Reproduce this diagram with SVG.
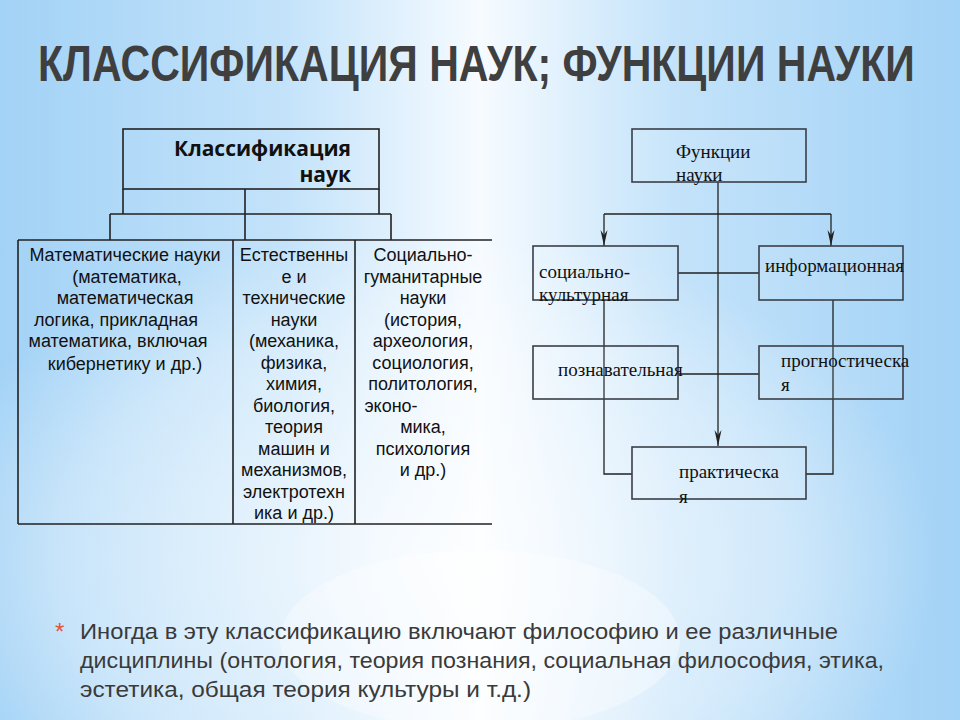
<svg xmlns="http://www.w3.org/2000/svg" width="960" height="720" viewBox="0 0 960 720">
<defs>
  <linearGradient id="bgH" x1="0" y1="0" x2="1" y2="0">
    <stop offset="0" stop-color="#a2d2f6"/>
    <stop offset="0.3" stop-color="#c4e3fa"/>
    <stop offset="0.5" stop-color="#f6fbff"/>
    <stop offset="0.7" stop-color="#c4e3fa"/>
    <stop offset="1" stop-color="#a2d2f6"/>
  </linearGradient>
  <radialGradient id="swoosh" cx="0.5" cy="0.5" r="0.5">
    <stop offset="0" stop-color="#ffffff" stop-opacity="0.75"/>
    <stop offset="0.7" stop-color="#ffffff" stop-opacity="0.35"/>
    <stop offset="1" stop-color="#ffffff" stop-opacity="0"/>
  </radialGradient>
  <marker id="arrow" viewBox="0 0 16 8" refX="16" refY="4" markerWidth="16" markerHeight="8" markerUnits="userSpaceOnUse" orient="auto">
    <path d="M0,0.5 L16,4 L0,7.5 L5,4 Z" fill="#222"/>
  </marker>
</defs>
<style>
  .title { font-family: "Liberation Sans", "DejaVu Sans", sans-serif; font-weight: bold; font-size: 50px; fill: #3f3f3f; }
  .cell { font-family: "Liberation Sans", "Open Sans", sans-serif; font-size: 18px; fill: #111; text-anchor: middle; }
  .cellb { font-family: "Open Sans", "Liberation Sans", sans-serif; font-size: 21px; font-weight: bold; fill: #111; }
  .tl { stroke: #222; stroke-width: 1.6; fill: none; }
  .box { fill: #ffffff; fill-opacity: 0.08; stroke: #3a3f48; stroke-width: 1.6; }
  .fn { font-family: "Liberation Serif", "Times New Roman", serif; font-size: 19px; fill: #111; }
  .con { stroke: #222; stroke-width: 1.3; fill: none; }
  .foot { font-family: "Liberation Sans", "DejaVu Sans", sans-serif; font-size: 22px; fill: #3a3a3a; }
</style>

<!-- background -->
<rect x="0" y="0" width="960" height="720" fill="url(#bgH)"/>
<ellipse cx="420" cy="560" rx="520" ry="330" fill="url(#swoosh)"/>
<ellipse cx="480" cy="640" rx="200" ry="90" fill="#ffffff" fill-opacity="0.35"/>

<!-- title -->
<text class="title" transform="translate(38,81) scale(0.78,1)" x="0" y="0" textLength="1124" lengthAdjust="spacingAndGlyphs">КЛАССИФИКАЦИЯ НАУК; ФУНКЦИИ НАУКИ</text>

<!-- classification table -->
<g id="classification">
  <g id="cls-root">
    <rect class="tl" x="123" y="129" width="256" height="60"/>
    <text class="cellb" x="351" y="156" text-anchor="end">Классификация</text>
    <text class="cellb" x="351" y="182" text-anchor="end">наук</text>
  </g>
  <g id="cls-links">
    <path class="tl" d="M123,189 V214 M379,189 V214 M245,189 V240 M110,214 H391 M110,214 V240 M391,214 V240"/>
  </g>
  <g id="cls-grid">
    <path class="tl" d="M18,240 H492 M18,240 V524 M233,240 V524 M355,240 V524 M18,524 H492"/>
  </g>
  <g id="col-math">
    <text class="cell" x="125" y="261">Математические науки</text>
    <text class="cell" x="127" y="282.5">(математика,</text>
    <text class="cell" x="125" y="304">математическая</text>
    <text class="cell" x="116" y="325.5">логика, прикладная</text>
    <text class="cell" x="118" y="347">математика, включая</text>
    <text class="cell" x="125" y="370">кибернетику и др.)</text>
  </g>
  <g id="col-nat">
    <text class="cell" x="294" y="261">Естественны</text>
    <text class="cell" x="294" y="282.5">е и</text>
    <text class="cell" x="294" y="304">технические</text>
    <text class="cell" x="294" y="325.5">науки</text>
    <text class="cell" x="294" y="347">(механика,</text>
    <text class="cell" x="294" y="368.5">физика,</text>
    <text class="cell" x="294" y="390">химия,</text>
    <text class="cell" x="294" y="411.5">биология,</text>
    <text class="cell" x="294" y="433">теория</text>
    <text class="cell" x="294" y="454.5">машин и</text>
    <text class="cell" x="294" y="476">механизмов,</text>
    <text class="cell" x="294" y="497.5">электротехн</text>
    <text class="cell" x="294" y="519">ика и др.)</text>
  </g>
  <g id="col-soc">
    <text class="cell" x="423" y="261">Социально-</text>
    <text class="cell" x="423" y="282.5">гуманитарные</text>
    <text class="cell" x="423" y="304">науки</text>
    <text class="cell" x="423" y="325.5">(история,</text>
    <text class="cell" x="423" y="347">археология,</text>
    <text class="cell" x="423" y="368.5">социология,</text>
    <text class="cell" x="423" y="390">политология,</text>
    <text class="cell" x="391" y="411.5">эконо-</text>
    <text class="cell" x="423" y="433">мика,</text>
    <text class="cell" x="423" y="454.5">психология</text>
    <text class="cell" x="423" y="476">и др.)</text>
  </g>
</g>

<!-- functions diagram -->
<g id="connectors">
  <path class="con" d="M718,182 V446" marker-end="url(#arrow)"/>
  <path class="con" d="M604,214 H831"/>
  <path class="con" d="M604,214 V246" marker-end="url(#arrow)"/>
  <path class="con" d="M831,214 V246" marker-end="url(#arrow)"/>
  <path class="con" d="M678,273 H759"/>
  <path class="con" d="M678,374 H759"/>
  <path class="con" d="M604,300 V474 H632"/>
  <path class="con" d="M833,300 V474 H806"/>
</g>
<g id="fn-root">
  <rect class="box" x="632" y="129" width="174" height="53"/>
  <text class="fn" x="676" y="158">Функции</text>
  <text class="fn" x="676" y="181">науки</text>
</g>
<g id="fn-social">
  <rect class="box" x="533" y="246" width="145" height="54"/>
  <text class="fn" x="539" y="278">социально-</text>
  <text class="fn" x="539" y="301">культурная</text>
</g>
<g id="fn-info">
  <rect class="box" x="759" y="246" width="144" height="54"/>
  <text class="fn" x="765" y="272">информационная</text>
</g>
<g id="fn-cogn">
  <rect class="box" x="533" y="346" width="145" height="53"/>
  <text class="fn" x="558" y="376">познавательная</text>
</g>
<g id="fn-progn">
  <rect class="box" x="759" y="346" width="144" height="53"/>
  <text class="fn" x="781" y="367">прогностическа</text>
  <text class="fn" x="781" y="391">я</text>
</g>
<g id="fn-pract">
  <rect class="box" x="632" y="447" width="174" height="52"/>
  <text class="fn" x="679" y="478">практическа</text>
  <text class="fn" x="679" y="503">я</text>
</g>

<!-- footnote -->
<g id="footnote">
  <text x="55" y="640" font-family="Liberation Sans, sans-serif" font-size="24" fill="#e0533a">*</text>
  <text class="foot" x="80" y="639" textLength="758" lengthAdjust="spacingAndGlyphs">Иногда в эту классификацию включают философию и ее различные</text>
  <text class="foot" x="80" y="668" textLength="804" lengthAdjust="spacingAndGlyphs">дисциплины (онтология, теория познания, социальная философия, этика,</text>
  <text class="foot" x="80" y="697" textLength="451" lengthAdjust="spacingAndGlyphs">эстетика, общая теория культуры и т.д.)</text>
</g>
</svg>
